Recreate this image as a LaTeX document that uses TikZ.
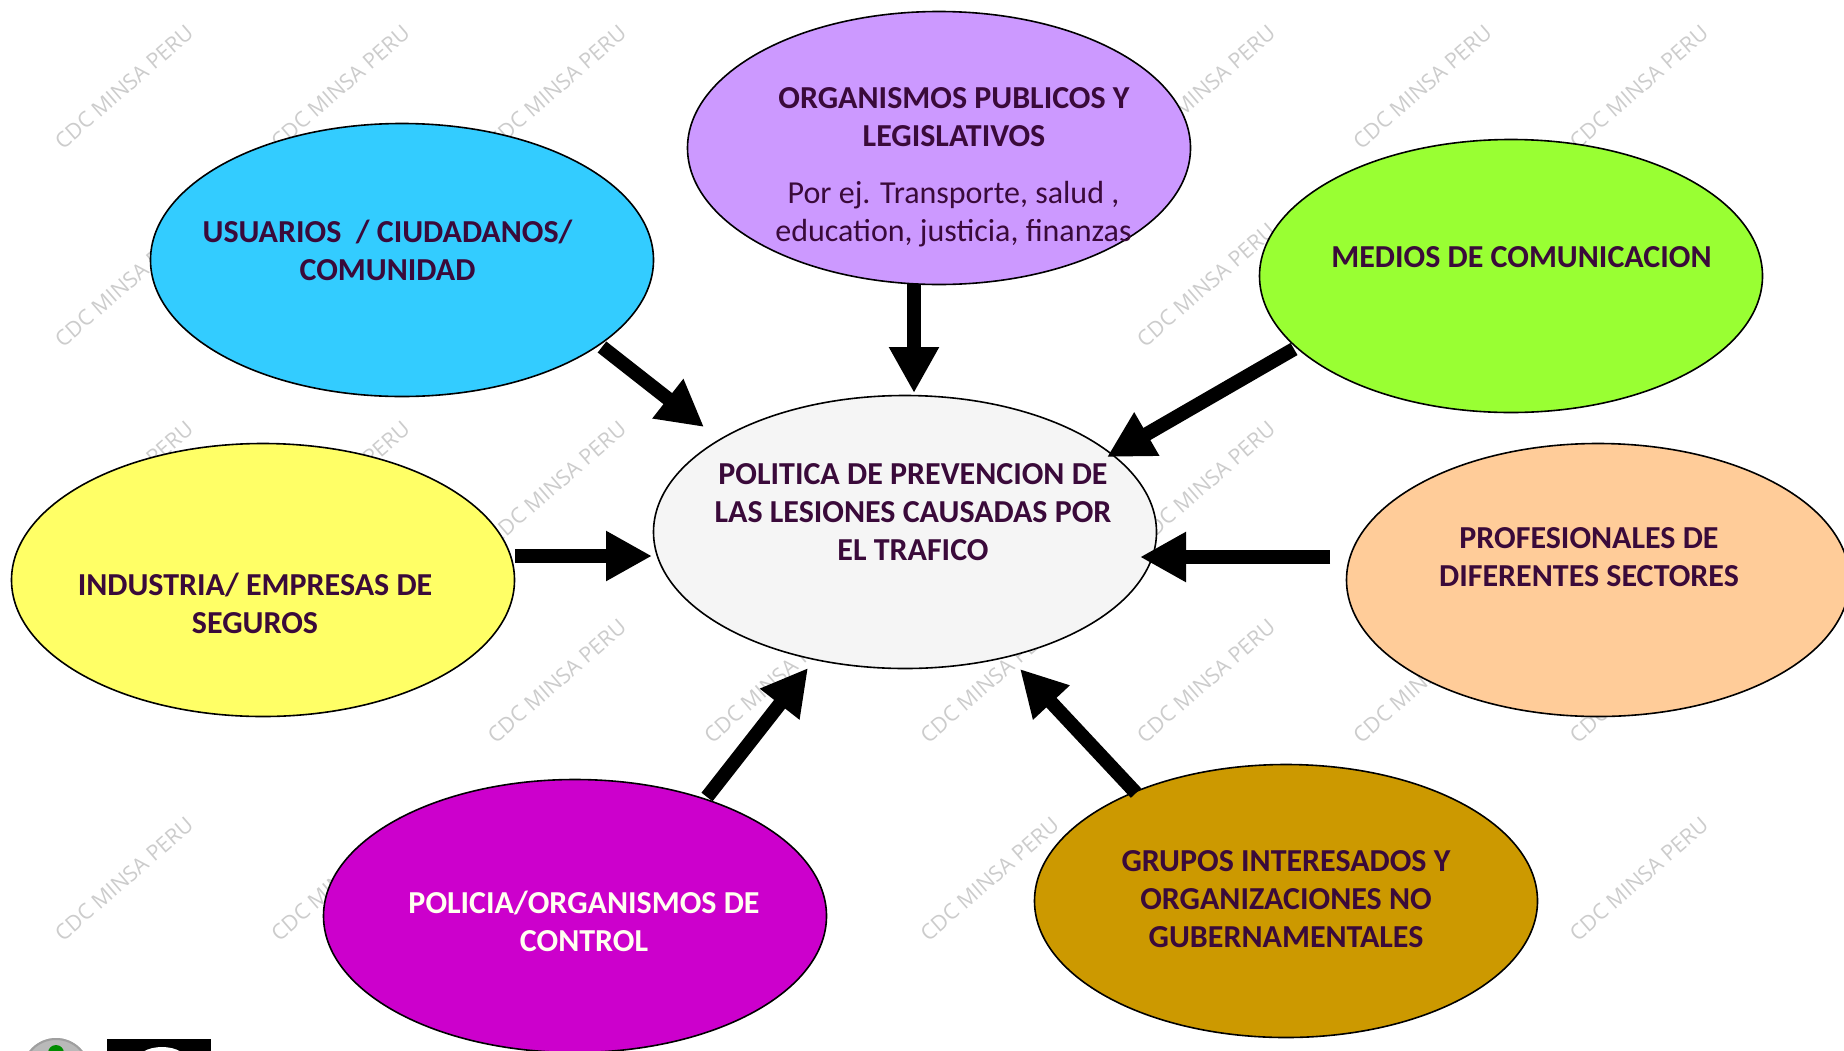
\documentclass[tikz,border=0pt]{standalone}
\usepackage{fontspec}
\setmainfont{Carlito}
\newfontfamily\wmfont{Open Sans}
\usetikzlibrary{arrows.meta,shapes.geometric}
\definecolor{txt}{HTML}{3A0A3A}
\definecolor{cream}{HTML}{FFFFF0}
\definecolor{cCyan}{HTML}{33CCFF}
\definecolor{cPurple}{HTML}{CC99FF}
\definecolor{cGreen}{HTML}{99FF33}
\definecolor{cYellow}{HTML}{FFFF66}
\definecolor{cHub}{HTML}{F5F5F5}
\definecolor{cOrange}{HTML}{FFCC99}
\definecolor{cMagenta}{HTML}{CC00CC}
\definecolor{cGold}{HTML}{CC9900}
\begin{document}
\begin{tikzpicture}[x=1pt,y=-1pt,
  blob/.style={ellipse, draw=black, line width=1.6pt, minimum width=503pt, minimum height=273pt, inner sep=0pt},
  lbl/.style={font=\bfseries\fontsize{32}{38}\selectfont, text=txt, align=center, anchor=base, inner sep=0pt},
  sublbl/.style={font=\fontsize{32}{38}\selectfont, text=txt, align=center, anchor=base, inner sep=0pt},
  wm/.style={font=\wmfont\fontsize{21.5}{24}\selectfont, text=black!20, rotate=41, inner sep=0pt},
  push/.style={line width=14pt, -{Triangle[length=46pt,width=47pt]}}
]
\useasboundingbox (0,0) rectangle (1844,1050);
\clip (0,0) rectangle (1844,1050);
\fill[white] (0,0) rectangle (1844,1050);

% faint watermark copies (those lying in the open white areas)
\foreach \i/\j in {0/0,1/0,2/0,5/0,6/0,7/0,
                   0/1,5/1,
                   0/2,1/2,2/2,5/2,
                   2/3,3/3,4/3,5/3,6/3,7/3,
                   0/4,1/4,4/4,7/4} {
  \node[wm] (wm-\i-\j) at ({124+216.4*\i},{87+198*\j}) {CDC MINSA PERU};
}

% bottom-left logo fragments
\fill[gray!55] (56,1072) circle (34);
\draw[gray!75, line width=2pt] (56,1072) circle (33);
\fill[green!55!black] (56,1053) circle (8);
\fill[black] (107,1039) rectangle (211,1052);
\fill[white] (162,1062) ellipse (26 and 15);

% ellipses
\node[blob, fill=cCyan] (cyan) at (402,260) {};
\node[blob, fill=cPurple] (purple) at (939,148) {};
\node[blob, fill=cGreen] (green) at (1511,276) {};
\node[blob, fill=cYellow] (yellow) at (263,580) {};
\node[blob, fill=cHub] (hub) at (905,532) {};
\node[blob, fill=cOrange] (orange) at (1598,580) {};
\node[blob, fill=cMagenta] (magenta) at (575,916) {};
\node[blob, fill=cGold] (gold) at (1286,901) {};

% texts (anchor = baseline of last line)
\node[lbl] (cyanT) at (387.5,280) {USUARIOS\ \ / CIUDADANOS/\\COMUNIDAD};
\node[lbl] (purpleT) at (954,146) {ORGANISMOS PUBLICOS Y\\LEGISLATIVOS};
\node[sublbl] (purpleS) at (953.5,241) {Por ej. Transporte, salud ,\\education, justicia, finanzas};
\node[lbl] (greenT) at (1521.5,267) {MEDIOS DE COMUNICACION};
\node[lbl] (hubT) at (913,560) {POLITICA DE PREVENCION DE\\LAS LESIONES CAUSADAS POR\\EL TRAFICO};
\node[lbl] (yellowT) at (255,633) {INDUSTRIA/ EMPRESAS DE\\SEGUROS};
\node[lbl] (orangeT) at (1589,586) {PROFESIONALES DE\\DIFERENTES SECTORES};
\node[lbl, text=cream] (magentaT) at (584,951) {POLICIA/ORGANISMOS DE\\CONTROL};
\node[lbl] (goldT) at (1286,947) {GRUPOS INTERESADOS Y\\ORGANIZACIONES NO\\GUBERNAMENTALES};

% arrow ends
\coordinate (a1s) at (602,347);  \coordinate (a1e) at (704,427);
\coordinate (a2s) at (914,284);  \coordinate (a2e) at (914,393);
\coordinate (a3s) at (1294,349); \coordinate (a3e) at (1107,457);
\coordinate (a4s) at (515,556);  \coordinate (a4e) at (652,556);
\coordinate (a5s) at (1330,557); \coordinate (a5e) at (1140,557);
\coordinate (a6s) at (707,797);  \coordinate (a6e) at (808,668);
\coordinate (a7s) at (1136,793); \coordinate (a7e) at (1020,669);

\draw[push] (a1s) -- (a1e);
\draw[push] (a2s) -- (a2e);
\draw[push] (a3s) -- (a3e);
\draw[push] (a4s) -- (a4e);
\draw[push] (a5s) -- (a5e);
\draw[push] (a6s) -- (a6e);
\draw[push] (a7s) -- (a7e);
\end{tikzpicture}
\end{document}
